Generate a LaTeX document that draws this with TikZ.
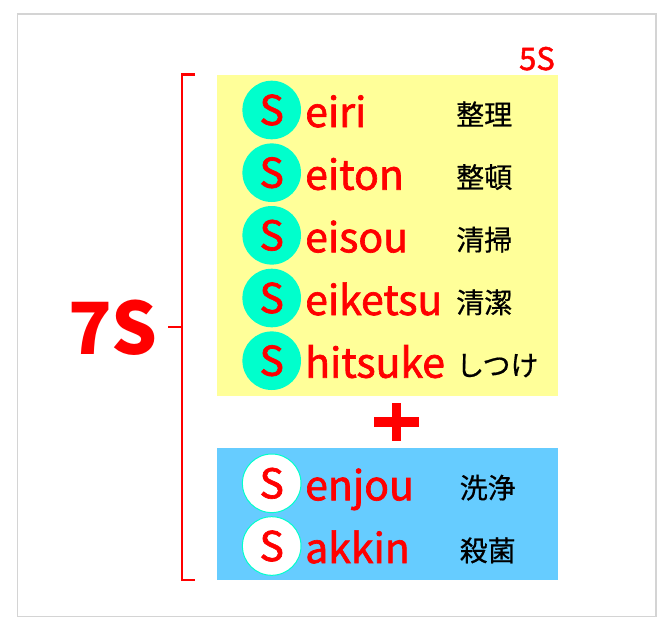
\documentclass[tikz,border=0pt]{standalone}
\usepackage{fontspec}
\newfontfamily\jp{Noto Sans CJK JP}
\newfontfamily\jpm{Noto Sans CJK JP}[FakeBold=1.6]
\newfontfamily\jpk{Noto Sans CJK JP}[FakeBold=0.6]
\definecolor{ylw}{HTML}{FFFF99}
\definecolor{blu}{HTML}{66CCFF}
\definecolor{trq}{HTML}{00FFCC}
\definecolor{frm}{HTML}{D4D4D4}
\begin{document}
\begin{tikzpicture}[x=1pt,y=-1pt,
  sc/.style={circle,fill=trq,minimum size=58.6pt,inner sep=0pt,text=red,font=\jpm\fontsize{41}{41}\selectfont},
  scw/.style={sc,fill=white,draw=trq,line width=1pt},
  word/.style={anchor=base west,inner sep=0pt,text=red,font=\jpm\fontsize{41}{41}\selectfont},
  kanji/.style={anchor=base west,inner sep=0pt,text=black,font=\jpk\fontsize{28}{28}\selectfont},
  brk/.style={draw=red,line width=2.5pt},
]
\useasboundingbox (0,0) rectangle (668,637);
\draw[frm,line width=1.5pt] (17.7,14) rectangle (656,616.7);
\fill[ylw] (217,74.5) rectangle (558,395.7);
\fill[blu] (217,448) rectangle (558,580);
\foreach \i/\y/\w/\k in {1/110/eiri/整理, 2/172.7/eiton/整頓, 3/235.3/eisou/清掃, 4/298/eiketsu/清潔, 5/360.7/hitsuke/しつけ} {
  \node[sc] (s\i) at (271.7,\y) {S};
  \node[word] (w\i) at (305,\y+17) {\w};
  \node[kanji] (k\i) at (456,\y+15) {\k};
}
\foreach \i/\y/\w/\k in {6/483.3/enjou/洗浄, 7/546/akkin/殺菌} {
  \node[scw] (s\i) at (271.7,\y) {S};
  \node[word] (w\i) at (305,\y+17) {\w};
  \node[kanji] (k\i) at (459.5,\y+15) {\k};
}
\node[anchor=base east,inner sep=0pt,text=red,font=\jpm\fontsize{31}{31}\selectfont] (five) at (555,70) {5S};
\node[anchor=base,inner sep=0pt,text=red,font=\jp\bfseries\fontsize{72}{72}\selectfont] (seven) at (113,354) {7S};
\draw[brk] (195,74.5) -- (182,74.5) -- (182,580) -- (195,580);
\draw[brk] (168,327) -- (182,327);
\fill[red] (374,416.7) rectangle (419,426.7);
\fill[red] (392,402.7) rectangle (401.3,441);
\end{tikzpicture}
\end{document}
